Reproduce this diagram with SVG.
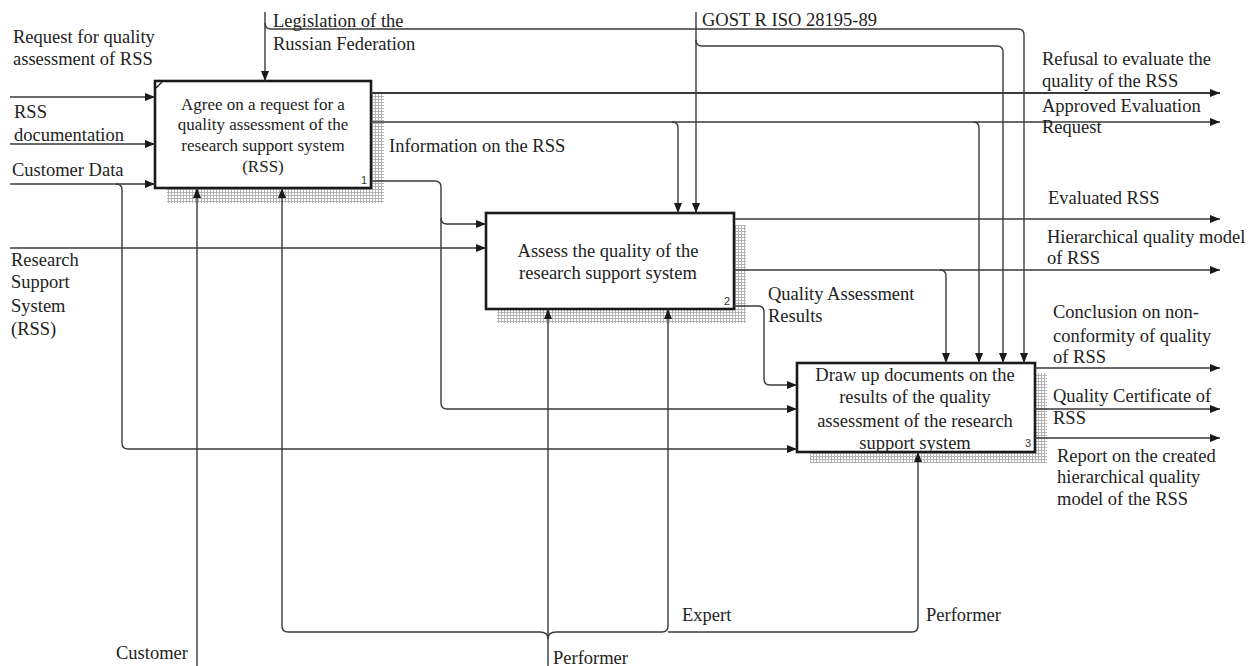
<svg xmlns="http://www.w3.org/2000/svg" width="1251" height="666" viewBox="0 0 1251 666">
  <defs>
    <pattern id="hatch" width="3" height="3" patternUnits="userSpaceOnUse">
      <rect width="3" height="3" fill="#ffffff"/>
      <path d="M0,0.5 H3 M0.5,0 V3" stroke="#b4b4b4" stroke-width="1"/>
    </pattern>
    <marker id="arrow" viewBox="0 0 10 8" refX="10" refY="4" markerWidth="11" markerHeight="8" markerUnits="userSpaceOnUse" orient="auto">
      <path d="M0,0 L10,4 L0,8 Z" fill="#1a1a1a"/>
    </marker>
  </defs>
  <style>
    .bg { fill: #ffffff; }
    .box { fill: #ffffff; stroke: #1a1a1a; stroke-width: 2.6; }
    .shadow { fill: url(#hatch); }
    .line { fill: none; stroke: #3a3a3a; stroke-width: 1.4; }
    .thick { stroke-width: 2; }
    .arr { marker-end: url(#arrow); }
    text { font-family: "Liberation Serif", "Times New Roman", serif; font-size: 18.5px; fill: #222222; }
    .c { text-anchor: middle; }
    .small { font-size: 17px; }
    .num { font-family: "Liberation Sans", Arial, sans-serif; font-size: 11px; text-anchor: end; fill: #333333; }
  </style>

  <rect class="bg" x="0" y="0" width="1251" height="666"/>

  <!-- activity 1 -->
  <g id="node-1">
    <rect class="shadow" x="167" y="94" width="217" height="109"/>
    <rect class="box" x="155" y="81" width="216" height="107"/>
    <path d="M156,88 L162,82" stroke="#1a1a1a" stroke-width="1.2"/>
    <text class="c small" x="263" y="110">Agree on a request for a</text>
    <text class="c small" x="263" y="130">quality assessment of the</text>
    <text class="c small" x="263" y="151">research support system</text>
    <text class="c small" x="263" y="172">(RSS)</text>
    <text class="num" x="367" y="184">1</text>
  </g>

  <!-- activity 2 -->
  <g id="node-2">
    <rect class="shadow" x="497" y="225" width="249" height="98"/>
    <rect class="box" x="486" y="213" width="248" height="96"/>
    <text class="c" x="608" y="257">Assess the quality of the</text>
    <text class="c" x="608" y="279">research support system</text>
    <text class="num" x="730" y="305">2</text>
  </g>

  <!-- activity 3 -->
  <g id="node-3">
    <rect class="shadow" x="810" y="373" width="237" height="90"/>
    <rect class="box" x="797" y="363" width="238" height="89"/>
    <text class="c" x="915" y="381">Draw up documents on the</text>
    <text class="c" x="915" y="403">results of the quality</text>
    <text class="c" x="915" y="427">assessment of the research</text>
    <text class="c" x="915" y="449">support system</text>
    <text class="num" x="1031" y="447">3</text>
  </g>

  <!-- connectors: inputs, controls, outputs and mechanisms -->
  <g id="connectors">
    <!-- inputs to activity 1 -->
    <path class="line arr" d="M10,97 H155"/>
    <path class="line arr" d="M10,144 H155"/>
    <path class="line arr" d="M10,184 H155"/>
    <!-- customer data also goes to activity 3 -->
    <path class="line arr" d="M116,184 Q122,184 122,190 V443 Q122,449 128,449 H797"/>

    <!-- legislation control -->
    <path class="line arr" d="M265,12 V81"/>
    <path class="line arr" d="M265,23 Q265,29 271,29 H1018 Q1024,29 1024,35 V363"/>

    <!-- GOST control -->
    <path class="line arr" d="M696,12 V213"/>
    <path class="line arr" d="M696,40 Q696,46 702,46 H997 Q1003,46 1003,52 V363"/>

    <!-- outputs of activity 1 -->
    <path class="line thick arr" d="M371,93 H1220"/>
    <path class="line arr" d="M371,122 H1220"/>
    <path class="line arr" d="M672,122 Q678,122 678,128 V213"/>
    <path class="line arr" d="M973,122 Q979,122 979,128 V363"/>
    <path class="line arr" d="M371,181 H435 Q441,181 441,187 V218 Q441,224 447,224 H486"/>
    <path class="line arr" d="M441,218 V403 Q441,409 447,409 H797"/>

    <!-- RSS input to activity 2 -->
    <path class="line arr" d="M10,248 H486"/>

    <!-- outputs of activity 2 -->
    <path class="line arr" d="M734,219 H1220"/>
    <path class="line arr" d="M734,270 H1220"/>
    <path class="line arr" d="M940,270 Q946,270 946,276 V363"/>
    <path class="line arr" d="M734,306 H758 Q764,306 764,312 V379 Q764,385 770,385 H797"/>

    <!-- outputs of activity 3 -->
    <path class="line arr" d="M1035,368 H1220"/>
    <path class="line arr" d="M1035,409 H1220"/>
    <path class="line arr" d="M1035,438 H1220"/>

    <!-- mechanisms -->
    <path class="line arr" d="M197,666 V188"/>
    <path class="line arr" d="M548,666 V309"/>
    <path class="line arr" d="M540,632 H288 Q282,632 282,626 V188"/>
    <path class="line arr" d="M556,632 H662 Q668,632 668,626 V309"/>
    <path class="line arr" d="M668,632 H912 Q918,632 918,626 V452"/>
    <path class="line" d="M540,632 Q548,632 548,639 M556,632 Q548,632 548,639"/>
  </g>

  <!-- arrow labels -->
  <g id="labels">
    <text x="13" y="43">Request for quality</text>
    <text x="13" y="65">assessment of RSS</text>
    <text x="273" y="27">Legislation of the</text>
    <text x="273" y="50">Russian Federation</text>
    <text x="702" y="26">GOST R ISO 28195-89</text>
    <text x="14" y="118">RSS</text>
    <text x="14" y="141">documentation</text>
    <text x="12" y="176">Customer Data</text>
    <text x="389" y="152">Information on the RSS</text>
    <text x="1042" y="65">Refusal to evaluate the</text>
    <text x="1042" y="87">quality of the RSS</text>
    <text x="1042" y="112">Approved Evaluation</text>
    <text x="1042" y="133">Request</text>
    <text x="1048" y="204">Evaluated RSS</text>
    <text x="1047" y="243">Hierarchical quality model</text>
    <text x="1047" y="264">of RSS</text>
    <text x="768" y="300">Quality Assessment</text>
    <text x="768" y="322">Results</text>
    <text x="1053" y="318">Conclusion on non-</text>
    <text x="1053" y="342">conformity of quality</text>
    <text x="1053" y="363">of RSS</text>
    <text x="1053" y="402">Quality Certificate of</text>
    <text x="1053" y="424">RSS</text>
    <text x="1057" y="462">Report on the created</text>
    <text x="1057" y="483">hierarchical quality</text>
    <text x="1057" y="505">model of the RSS</text>
    <text x="11" y="266">Research</text>
    <text x="11" y="288">Support</text>
    <text x="11" y="312">System</text>
    <text x="11" y="335">(RSS)</text>
    <text x="116" y="659">Customer</text>
    <text x="553" y="664">Performer</text>
    <text x="682" y="621">Expert</text>
    <text x="926" y="621">Performer</text>
  </g>
</svg>
